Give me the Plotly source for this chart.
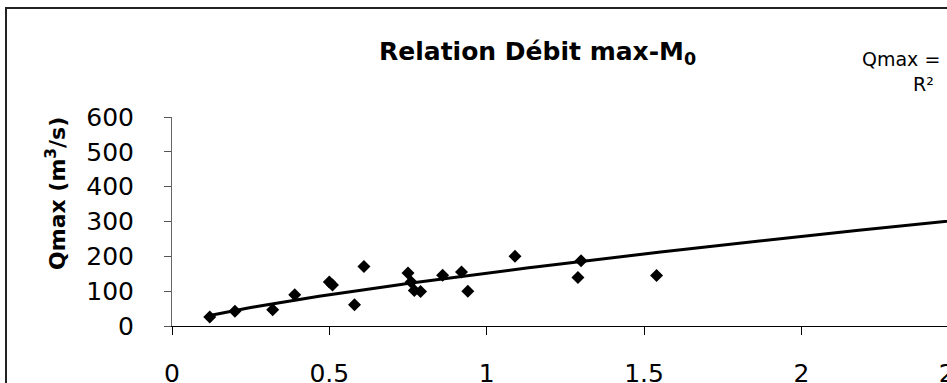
import numpy as np
import plotly.graph_objects as go

# values (M0 vs peak discharge)
m0 = [0.12, 0.20, 0.32, 0.39, 0.50, 0.51, 0.58, 0.61, 0.75, 0.76,
      0.77, 0.79, 0.86, 0.92, 0.94, 1.09, 1.29, 1.30, 1.54]
qmax = [26, 42, 47, 90, 126, 118, 61, 171, 152, 126,
        102, 99, 146, 155, 100, 200, 139, 187, 145]

# power trendline Qmax = a * M0^b, coefficients estimated from the drawn curve
trend_a = 152.0
trend_b = 0.76
trend_end = 3.0

x_ticks = [0, 0.5, 1, 1.5, 2, 2.5, 3]
y_ticks = [0, 100, 200, 300, 400, 500, 600]

title_txt = "<b>Relation Débit max-M<sub>0</sub></b>"
ytitle_txt = "<b>Qmax (m<sup>3</sup>/s)</b>"
eq_txt = "Qmax = 152 M0^0.76"
r2_txt = "R²\u00a0\u00a0= 0.70"

# the original chart is wider than the window, it gets cropped on the right/bottom
W, H = 1160, 450
ML, MR, MT, MB = 172, 44, 117, 124
PW = W - ML - MR
PH = H - MT - MB
FONT = "DejaVu Sans"


def px(x):
    return (x - ML) / PW


def py(y):
    return (H - MB - y) / PH


tx = np.linspace(min(m0), trend_end, 200)
ty = trend_a * tx ** trend_b

fig = go.Figure()

fig.add_trace(
    go.Scatter(
        x=m0,
        y=qmax,
        mode="markers",
        marker=dict(symbol="diamond", size=10, color="black"),
        showlegend=False,
    )
)

fig.add_trace(
    go.Scatter(
        x=tx,
        y=ty,
        mode="lines",
        line=dict(color="black", width=3),
        showlegend=False,
        hoverinfo="skip",
    )
)

fig.update_xaxes(
    range=[0, trend_end],
    tickvals=x_ticks,
    ticktext=[f"{v:g}" for v in x_ticks],
    ticks="outside",
    ticklen=8,
    tickcolor="black",
    showline=True,
    linecolor="black",
    linewidth=1,
    showgrid=False,
    zeroline=False,
    ticklabelstandoff=17,
    tickfont=dict(family=FONT, size=25, color="black"),
)

fig.update_yaxes(
    range=[0, 600],
    tickvals=y_ticks,
    ticks="outside",
    ticklen=7,
    tickcolor="#555555",
    showline=True,
    linecolor="#666666",
    linewidth=1,
    showgrid=False,
    zeroline=False,
    ticklabelstandoff=25,
    tickfont=dict(family=FONT, size=25, color="black"),
)

# chart area frame
fig.add_shape(
    type="rect", xref="paper", yref="paper",
    x0=px(6), x1=px(W - 4), y0=py(H - 4), y1=py(8),
    line=dict(color="#222222", width=2), layer="below",
)

fig.add_annotation(
    text=title_txt, xref="paper", yref="paper",
    x=px(537), y=py(53), xanchor="center", yanchor="middle",
    showarrow=False, font=dict(family=FONT, size=25, color="black"),
)
fig.add_annotation(
    text=ytitle_txt, xref="paper", yref="paper",
    x=px(56), y=py(194), xanchor="center", yanchor="middle",
    textangle=-90, showarrow=False,
    font=dict(family=FONT, size=22, color="black"),
)
fig.add_annotation(
    text=eq_txt, xref="paper", yref="paper",
    x=px(861), y=py(59), xanchor="left", yanchor="middle",
    showarrow=False, borderpad=0,
    font=dict(family=FONT, size=19, color="black"),
)
fig.add_annotation(
    text=r2_txt, xref="paper", yref="paper",
    x=px(912), y=py(84), xanchor="left", yanchor="middle",
    showarrow=False, borderpad=0,
    font=dict(family=FONT, size=19, color="black"),
)

fig.update_layout(
    width=W,
    height=H,
    margin=dict(l=ML, r=MR, t=MT, b=MB),
    paper_bgcolor="white",
    plot_bgcolor="white",
    font=dict(family=FONT, color="black"),
    showlegend=False,
)

fig.write_html(
    "out.html",
    config={"displayModeBar": False},
    post_script=(
        "document.body.style.margin='0';"
        "document.body.style.overflow='hidden';"
        "document.documentElement.style.overflow='hidden';"
    ),
)
